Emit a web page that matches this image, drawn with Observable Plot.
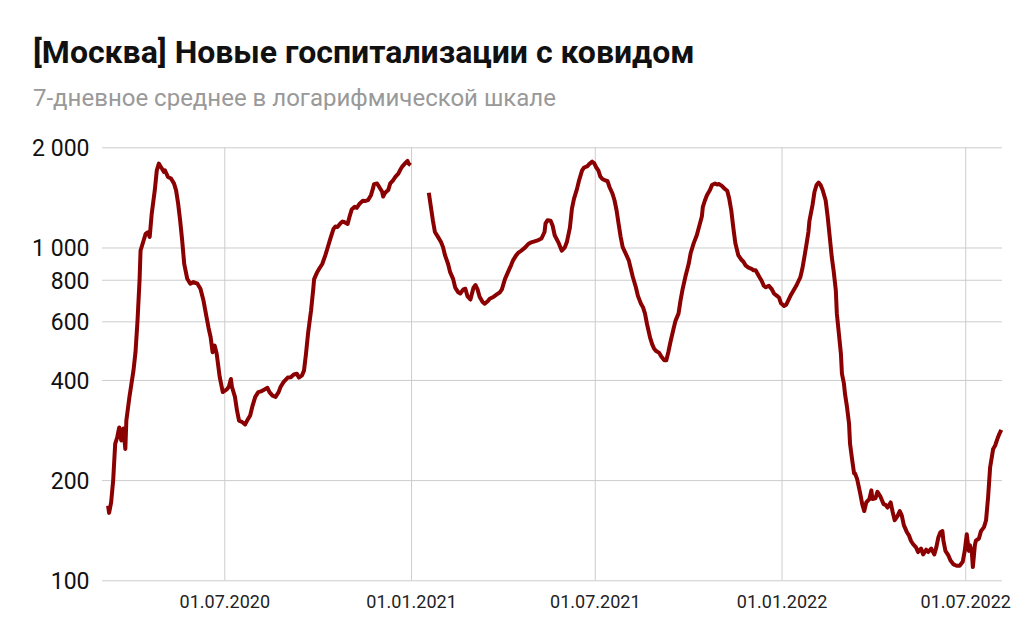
<!DOCTYPE html>
<html><head><meta charset="utf-8">
<script src="https://cdn.jsdelivr.net/npm/d3@7"></script>
<script src="https://cdn.jsdelivr.net/npm/@observablehq/plot@0.6"></script>
<style>
body{margin:0;background:#fff;font-family:Roboto,sans-serif;}
#title{position:absolute;left:33px;top:32.5px;font-size:32px;line-height:38px;font-weight:700;color:#111;white-space:nowrap;}
#subtitle{position:absolute;left:33px;top:83.8px;font-size:24px;line-height:28px;color:#999;white-space:nowrap;}
#chart{position:absolute;left:0;top:110px;}
</style></head><body>
<div id="title">[Москва] Новые госпитализации с ковидом</div>
<div id="subtitle">7-дневное среднее в логарифмической шкале</div>
<div id="chart"></div>
<script>
// 2020 wave (before the January 2021 data gap)
const dates2020 = [
"2020-03-08","2020-03-09","2020-03-11","2020-03-13","2020-03-15","2020-03-17","2020-03-19","2020-03-21","2020-03-23","2020-03-25",
"2020-03-26","2020-03-29","2020-04-02","2020-04-04","2020-04-06","2020-04-08","2020-04-09","2020-04-12","2020-04-14","2020-04-16",
"2020-04-18","2020-04-20","2020-04-23","2020-04-25","2020-04-27","2020-04-29","2020-04-30","2020-05-02","2020-05-03","2020-05-06",
"2020-05-09","2020-05-12","2020-05-14","2020-05-16","2020-05-18","2020-05-20","2020-05-22","2020-05-25","2020-05-28","2020-05-31",
"2020-06-04","2020-06-07","2020-06-10","2020-06-13","2020-06-15","2020-06-17","2020-06-19","2020-06-21","2020-06-23","2020-06-26",
"2020-06-29","2020-07-03","2020-07-05","2020-07-07","2020-07-08","2020-07-11","2020-07-13","2020-07-15","2020-07-18","2020-07-21",
"2020-07-23","2020-07-26","2020-07-28","2020-07-31","2020-08-03","2020-08-06","2020-08-10","2020-08-12","2020-08-14","2020-08-17",
"2020-08-20","2020-08-23","2020-08-25","2020-08-28","2020-09-01","2020-09-04","2020-09-07","2020-09-10","2020-09-12","2020-09-15",
"2020-09-17","2020-09-19","2020-09-21","2020-09-24","2020-09-26","2020-09-27","2020-09-30","2020-10-02","2020-10-05","2020-10-08",
"2020-10-10","2020-10-13","2020-10-16","2020-10-18","2020-10-20","2020-10-23","2020-10-25","2020-10-27","2020-10-30","2020-11-01",
"2020-11-03","2020-11-06","2020-11-08","2020-11-11","2020-11-14","2020-11-16","2020-11-19","2020-11-22","2020-11-24","2020-11-25",
"2020-11-28","2020-11-30","2020-12-03","2020-12-04","2020-12-06","2020-12-09","2020-12-11","2020-12-14","2020-12-16","2020-12-19",
"2020-12-21","2020-12-23","2020-12-26","2020-12-28","2020-12-29","2020-12-31"
];
const values2020 = [
168,160,172,200,258,270,289,264,287,249,
303,356,428,486,605,799,983,1053,1103,1115,
1080,1268,1490,1712,1792,1752,1733,1693,1712,1634,
1617,1561,1490,1360,1209,1053,896,808,781,790,
781,754,695,620,575,540,486,509,481,409,
369,376,383,404,383,357,325,303,300,295,
303,314,333,357,369,371,377,380,369,360,
357,369,383,396,408,409,417,419,408,414,
428,481,553,650,745,806,846,866,895,950,
995,1067,1140,1160,1156,1186,1201,1195,1181,1245,
1305,1330,1320,1361,1386,1383,1392,1441,1510,1556,
1563,1527,1476,1427,1466,1493,1563,1600,1636,1673,
1721,1760,1801,1826,1793,1772
];
// no data shown between these two dates
const gapDate = "2021-01-01";

const dates2021 = [
"2021-01-18","2021-01-20","2021-01-22","2021-01-24","2021-01-27","2021-01-30","2021-02-01","2021-02-03","2021-02-06","2021-02-08",
"2021-02-11","2021-02-13","2021-02-16","2021-02-18","2021-02-21","2021-02-23","2021-02-25","2021-02-28","2021-03-03","2021-03-05",
"2021-03-07","2021-03-09","2021-03-12","2021-03-14","2021-03-17","2021-03-19","2021-03-23","2021-03-26","2021-03-29","2021-03-31",
"2021-04-03","2021-04-06","2021-04-09","2021-04-11","2021-04-14","2021-04-16","2021-04-19","2021-04-23","2021-04-26","2021-04-29",
"2021-05-03","2021-05-06","2021-05-09","2021-05-12","2021-05-13","2021-05-15","2021-05-18","2021-05-20","2021-05-22","2021-05-26",
"2021-05-29","2021-06-01","2021-06-03","2021-06-06","2021-06-08","2021-06-10","2021-06-13","2021-06-15","2021-06-18","2021-06-20",
"2021-06-23","2021-06-25","2021-06-28","2021-06-30","2021-07-02","2021-07-04","2021-07-06","2021-07-08","2021-07-11","2021-07-13",
"2021-07-15","2021-07-18","2021-07-20","2021-07-22","2021-07-24","2021-07-26","2021-07-28","2021-07-31","2021-08-03","2021-08-05",
"2021-08-07","2021-08-10","2021-08-12","2021-08-15","2021-08-17","2021-08-19","2021-08-21","2021-08-24","2021-08-26","2021-08-28",
"2021-08-30","2021-09-02","2021-09-04","2021-09-07","2021-09-09","2021-09-11","2021-09-13","2021-09-16","2021-09-18","2021-09-21",
"2021-09-23","2021-09-25","2021-09-28","2021-10-01","2021-10-03","2021-10-06","2021-10-09","2021-10-11","2021-10-14","2021-10-15",
"2021-10-17","2021-10-19","2021-10-22","2021-10-24","2021-10-27","2021-10-29","2021-10-31","2021-11-03","2021-11-05","2021-11-08",
"2021-11-10","2021-11-12","2021-11-14","2021-11-16","2021-11-19","2021-11-22","2021-11-24","2021-11-26","2021-11-29","2021-12-02",
"2021-12-04","2021-12-06","2021-12-09","2021-12-12","2021-12-14","2021-12-16","2021-12-19","2021-12-22","2021-12-24","2021-12-27",
"2021-12-29","2021-12-31"
];
const values2021 = [
1466,1330,1211,1117,1080,1042,1006,950,895,846,
806,760,736,730,751,754,717,700,760,774,
751,714,688,680,692,704,714,725,736,751,
806,846,887,918,950,966,981,1004,1028,1040,
1049,1056,1068,1117,1186,1212,1207,1166,1092,1034,
981,1004,1042,1151,1313,1405,1505,1595,1711,1745,
1760,1787,1817,1796,1745,1711,1638,1612,1595,1590,
1525,1455,1389,1296,1181,1080,1006,962,918,866,
818,762,718,680,664,635,590,538,514,498,
490,484,472,460,460,487,521,570,604,635,
696,751,825,895,966,1034,1092,1151,1244,1330,
1389,1441,1493,1546,1563,1552,1556,1534,1510,1486,
1405,1296,1151,1034,950,922,909,887,873,866,
857,857,825,796,770,762,770,751,730,718,
710,682
];

const dates2022 = [
"2022-01-03","2022-01-05","2022-01-08","2022-01-10","2022-01-12","2022-01-15","2022-01-17","2022-01-19","2022-01-21","2022-01-23",
"2022-01-25","2022-01-27","2022-01-28","2022-01-31","2022-02-02","2022-02-04","2022-02-06","2022-02-08","2022-02-10","2022-02-13",
"2022-02-15","2022-02-17","2022-02-19","2022-02-21","2022-02-23","2022-02-24","2022-02-26","2022-02-28","2022-03-01","2022-03-03",
"2022-03-04","2022-03-06","2022-03-08","2022-03-09","2022-03-11","2022-03-13","2022-03-14","2022-03-16","2022-03-19","2022-03-21",
"2022-03-23","2022-03-25","2022-03-28","2022-03-30","2022-03-31","2022-04-03","2022-04-05","2022-04-08","2022-04-11","2022-04-13",
"2022-04-15","2022-04-18","2022-04-20","2022-04-22","2022-04-25","2022-04-27","2022-04-29","2022-05-01","2022-05-04","2022-05-06",
"2022-05-08","2022-05-10","2022-05-13","2022-05-15","2022-05-18","2022-05-20","2022-05-23","2022-05-25","2022-05-28","2022-05-31",
"2022-06-02","2022-06-04","2022-06-06","2022-06-08","2022-06-09","2022-06-11","2022-06-14","2022-06-16","2022-06-19","2022-06-22",
"2022-06-25","2022-06-28","2022-06-30","2022-07-02","2022-07-04","2022-07-05","2022-07-07","2022-07-08","2022-07-10","2022-07-11",
"2022-07-14","2022-07-16","2022-07-19","2022-07-21","2022-07-23","2022-07-25","2022-07-28","2022-07-30","2022-08-01","2022-08-03",
"2022-08-05"
];
const values2022 = [
670,675,704,725,743,770,793,816,866,939,
1022,1117,1207,1345,1476,1546,1572,1546,1493,1389,
1239,1080,939,846,745,635,553,481,419,391,
365,333,297,258,232,210,210,202,183,170,
162,172,176,187,176,177,185,179,170,169,
166,172,161,152,157,162,157,147,140,137,
132,129,126,122,125,120,124,122,125,120,
126,135,140,141,132,123,119,115,112,111,
111,114,123,138,123,128,122,110,128,132,
134,141,145,152,178,219,249,255,266,276,
284
];

const yTicks = [100, 200, 400, 600, 800, 1000, 2000];
const xTicks = ["2020-07-01", "2021-01-01", "2021-07-01", "2022-01-01", "2022-07-01"];
const xDomain = ["2020-03-02T12:00:00Z", "2022-08-06T05:00:00Z"];

const toRows = (ds, vs) => ds.map((d, i) => ({date: new Date(d), value: vs[i]}));
const data = [
  ...toRows(dates2020, values2020),
  {date: new Date(gapDate), value: null},
  ...toRows(dates2021, values2021),
  ...toRows(dates2022, values2022)
];
const xTickDates = xTicks.map(d => new Date(d));
const fmtY = d => d >= 1000 ? d3.format(",")(d).replace(/,/g, " ") : String(d);
const fmtX = d3.utcFormat("%d.%m.%Y");

const chart = Plot.plot({
  width: 1034,
  height: 520,
  marginLeft: 102,
  marginRight: 32,
  marginTop: 37.3,
  marginBottom: 49.7,
  style: {fontFamily: "Roboto", background: "#fff", overflow: "visible"},
  x: {type: "utc", domain: xDomain.map(d => new Date(d))},
  y: {type: "log", domain: [100, 2000]},
  marks: [
    Plot.gridY(yTicks, {stroke: "#cccccc", strokeOpacity: 1}),
    Plot.gridX(xTickDates, {stroke: "#cccccc", strokeOpacity: 1}),
    Plot.axisY(yTicks, {tickSize: 0, tickPadding: 13, tickFormat: fmtY, fontSize: 23, fill: "#111", label: null, dy: 1}),
    Plot.axisX(xTickDates, {tickSize: 0, tickPadding: 14, tickFormat: fmtX, fontSize: 18, fill: "#222", label: null}),
    Plot.line(data, {x: "date", y: "value", stroke: "#8b0000", strokeWidth: 4, strokeLinejoin: "round", strokeLinecap: "butt"})
  ]
});
document.getElementById("chart").appendChild(chart);
</script>
</body></html>
